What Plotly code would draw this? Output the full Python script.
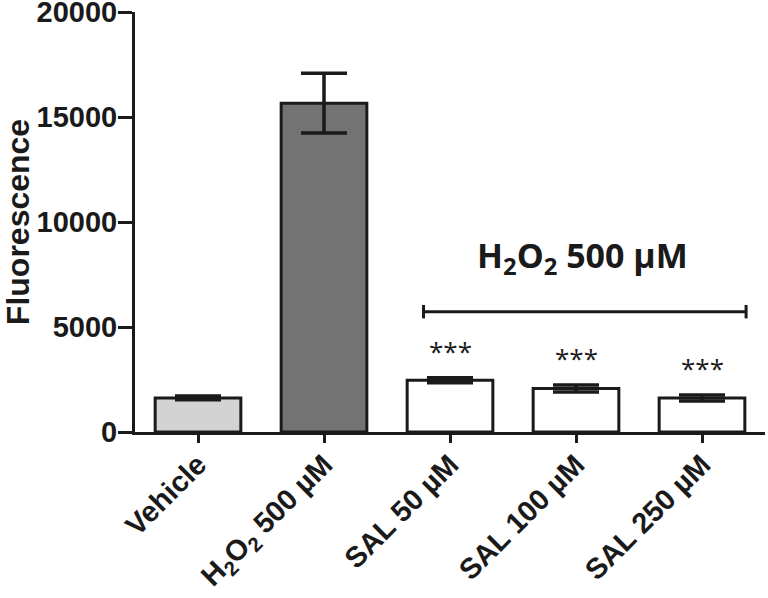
import plotly.graph_objects as go

groups = ['Vehicle', 'H<sub>2</sub>O<sub>2</sub> 500 µM', 'SAL 50 µM', 'SAL 100 µM', 'SAL 250 µM']
fluorescence = [1620, 15660, 2460, 2070, 1620]
errors = [90, 1420, 120, 170, 140]
bar_colors = ['#d3d3d3', '#737373', '#ffffff', '#ffffff', '#ffffff']
stars = ['', '', '***', '***', '***']

y_ticks = [0, 5000, 10000, 15000, 20000]
y_ticktext = ['0', '5000', '10000', '15000', '20000']

ink = '#1a1a1a'
arial_bold = 'Liberation Sans, Arial'

fig = go.Figure()

fig.add_trace(go.Bar(
    x=list(range(len(groups))),
    y=fluorescence,
    width=0.68,
    marker=dict(color=bar_colors, line=dict(color=ink, width=3)),
    error_y=dict(type='data', array=errors, visible=True,
                 color=ink, thickness=3.5, width=23),
    hoverinfo='skip',
))

# significance stars above each SAL bar
for i, s in enumerate(stars):
    if s:
        fig.add_annotation(x=i, y=fluorescence[i] + errors[i], text=s,
                           showarrow=False, yanchor='bottom', yshift=7,
                           font=dict(family='Open Sans', size=26, color=ink))

# bracket marking the H2O2-treated SAL groups
bracket_x0, bracket_x1, bracket_y = 1.79, 4.35, 5730
fig.add_shape(type='line', xref='x', yref='y', x0=bracket_x0, x1=bracket_x1,
              y0=bracket_y, y1=bracket_y, line=dict(color=ink, width=3))
for bx in (bracket_x0, bracket_x1):
    fig.add_shape(type='line', xref='x', yref='y', x0=bx, x1=bx,
                  y0=bracket_y - 320, y1=bracket_y + 320, line=dict(color=ink, width=3))
fig.add_annotation(x=3.05, y=8350, text='H<sub>2</sub>O<sub>2</sub> 500 μM',
                   showarrow=False, xref='x', yref='y',
                   font=dict(family='Open Sans', size=34, color=ink, weight='bold'))

fig.update_xaxes(
    range=[-0.5, 4.5],
    tickvals=list(range(len(groups))), ticktext=groups,
    tickangle=-45, tickfont=dict(family=arial_bold, size=29, color=ink, weight='bold'),
    ticklabelstandoff=-7,
    showline=True, linewidth=3, linecolor=ink,
    ticks='outside', ticklen=8, tickwidth=3, tickcolor=ink,
    showgrid=False, zeroline=False,
)

fig.update_yaxes(
    range=[0, 20000], tickvals=y_ticks, ticktext=y_ticktext,
    tickfont=dict(family=arial_bold, size=29, color=ink, weight='bold'),
    ticklabeloverflow='allow', ticklabelstandoff=-5,
    showline=True, linewidth=3, linecolor=ink,
    ticks='outside', ticklen=14, tickwidth=3, tickcolor=ink,
    showgrid=False, zeroline=False,
    title=dict(text='Fluorescence', font=dict(family=arial_bold, size=32,
                                              color=ink, weight='bold'), standoff=4),
)

fig.update_layout(
    width=768, height=598,
    margin=dict(l=135, r=3, t=12, b=166, autoexpand=False),
    plot_bgcolor='white', paper_bgcolor='white',
    showlegend=False,
)

# drop the page's default body margin so the figure sits at the window origin
fig.write_html("out.html", config={'displayModeBar': False},
               post_script="document.body.style.margin='0';")
